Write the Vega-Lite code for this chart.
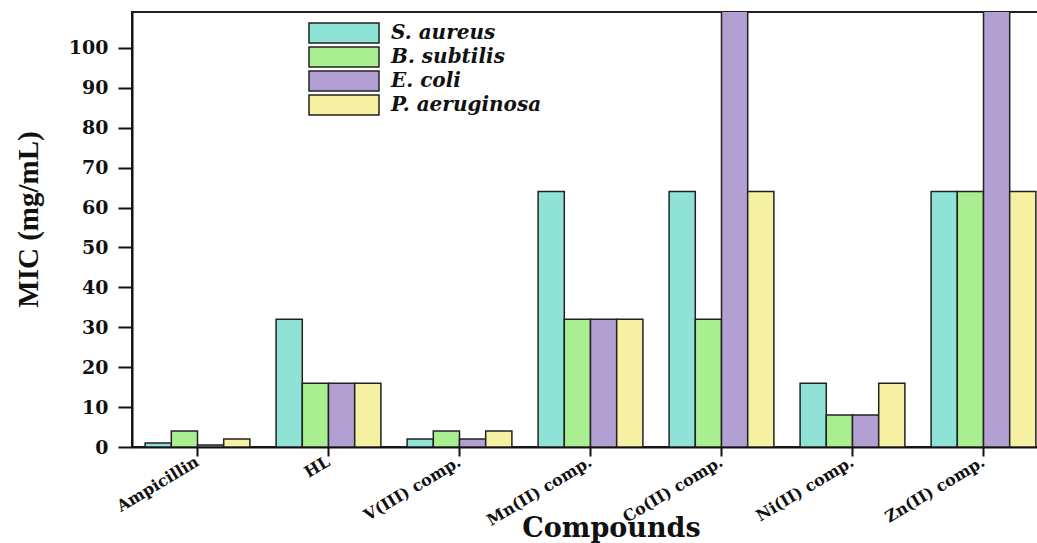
{
  "$schema": "https://vega.github.io/schema/vega-lite/v6.json",
  "width": 917,
  "height": 435,
  "autosize": {"type": "none"},
  "padding": {"left": 132, "top": 12, "right": 0, "bottom": 96},
  "background": "white",
  "config": {
    "view": {"stroke": "#222", "strokeWidth": 2},
    "axis": {"domainColor": "#111", "domainWidth": 2, "tickColor": "#111", "tickWidth": 2, "grid": false, "labelColor": "#111", "titleColor": "#111"}
  },
  "data": {
    "values": [
      {"compound": "Ampicillin", "organism": "S. aureus", "mic": 1},
      {"compound": "Ampicillin", "organism": "B. subtilis", "mic": 4},
      {"compound": "Ampicillin", "organism": "E. coli", "mic": 0.5},
      {"compound": "Ampicillin", "organism": "P. aeruginosa", "mic": 2},
      {"compound": "HL", "organism": "S. aureus", "mic": 32},
      {"compound": "HL", "organism": "B. subtilis", "mic": 16},
      {"compound": "HL", "organism": "E. coli", "mic": 16},
      {"compound": "HL", "organism": "P. aeruginosa", "mic": 16},
      {"compound": "V(III) comp.", "organism": "S. aureus", "mic": 2},
      {"compound": "V(III) comp.", "organism": "B. subtilis", "mic": 4},
      {"compound": "V(III) comp.", "organism": "E. coli", "mic": 2},
      {"compound": "V(III) comp.", "organism": "P. aeruginosa", "mic": 4},
      {"compound": "Mn(II) comp.", "organism": "S. aureus", "mic": 64},
      {"compound": "Mn(II) comp.", "organism": "B. subtilis", "mic": 32},
      {"compound": "Mn(II) comp.", "organism": "E. coli", "mic": 32},
      {"compound": "Mn(II) comp.", "organism": "P. aeruginosa", "mic": 32},
      {"compound": "Co(II) comp.", "organism": "S. aureus", "mic": 64},
      {"compound": "Co(II) comp.", "organism": "B. subtilis", "mic": 32},
      {"compound": "Co(II) comp.", "organism": "E. coli", "mic": 128},
      {"compound": "Co(II) comp.", "organism": "P. aeruginosa", "mic": 64},
      {"compound": "Ni(II) comp.", "organism": "S. aureus", "mic": 16},
      {"compound": "Ni(II) comp.", "organism": "B. subtilis", "mic": 8},
      {"compound": "Ni(II) comp.", "organism": "E. coli", "mic": 8},
      {"compound": "Ni(II) comp.", "organism": "P. aeruginosa", "mic": 16},
      {"compound": "Zn(II) comp.", "organism": "S. aureus", "mic": 64},
      {"compound": "Zn(II) comp.", "organism": "B. subtilis", "mic": 64},
      {"compound": "Zn(II) comp.", "organism": "E. coli", "mic": 128},
      {"compound": "Zn(II) comp.", "organism": "P. aeruginosa", "mic": 64}
    ]
  },
  "mark": {"type": "bar", "clip": true, "stroke": "#222", "strokeWidth": 1.5},
  "encoding": {
    "x": {
      "field": "compound", "type": "nominal",
      "sort": ["Ampicillin", "HL", "V(III) comp.", "Mn(II) comp.", "Co(II) comp.", "Ni(II) comp.", "Zn(II) comp."],
      "scale": {"paddingInner": 0.2, "paddingOuter": 0.1},
      "axis": {
        "title": "Compounds", "titleFont": "DejaVu Serif", "titleFontWeight": "bold", "titleFontSize": 27,
        "titleX": 479, "titleY": 89, "titleAlign": "center", "titleBaseline": "alphabetic", "titleAnchor": null,
        "labelAngle": -31, "labelAlign": "right", "labelBaseline": "middle", "labelFont": "DejaVu Serif", "labelFontWeight": "bold", "labelFontSize": 16, "labelPadding": 4,
        "tickSize": 9
      }
    },
    "xOffset": {
      "field": "organism", "type": "nominal",
      "sort": ["S. aureus", "B. subtilis", "E. coli", "P. aeruginosa"],
      "scale": {"paddingInner": 0, "paddingOuter": 0}
    },
    "y": {
      "field": "mic", "type": "quantitative",
      "scale": {"domain": [0, 109], "nice": false, "zero": true},
      "axis": {
        "title": "MIC (mg/mL)", "titleFont": "Liberation Serif", "titleFontWeight": "bold", "titleFontSize": 29,
        "titleX": -104, "titleY": 207, "titleAlign": "center", "titleBaseline": "middle", "titleAnchor": null, "titleAngle": -90,
        "values": [0, 10, 20, 30, 40, 50, 60, 70, 80, 90, 100],
        "labelFont": "DejaVu Serif", "labelFontWeight": "bold", "labelFontSize": 19, "labelPadding": 10,
        "tickSize": 14
      }
    },
    "color": {
      "field": "organism", "type": "nominal",
      "sort": ["S. aureus", "B. subtilis", "E. coli", "P. aeruginosa"],
      "scale": {"domain": ["S. aureus", "B. subtilis", "E. coli", "P. aeruginosa"], "range": ["#8fe3d6", "#a9ef92", "#b2a0d2", "#f6f1a2"]},
      "legend": {
        "title": null, "orient": "none", "legendX": 202, "legendY": 11,
        "symbolType": "M-10,-2.86H10V2.86H-10Z", "symbolSize": 49,
        "symbolStrokeColor": "#222", "symbolStrokeWidth": 1.5, "symbolOpacity": 1,
        "labelFont": "DejaVu Serif", "labelFontStyle": "italic", "labelFontWeight": "bold", "labelFontSize": 20, "labelColor": "#111",
        "labelOffset": 37, "rowPadding": -5, "padding": 0
      }
    }
  }
}
